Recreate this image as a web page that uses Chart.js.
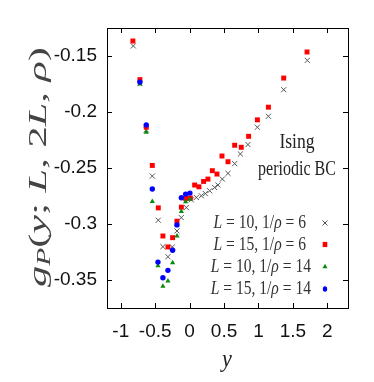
<!DOCTYPE html>
<html>
<head>
<meta charset="utf-8">
<script src="https://cdn.jsdelivr.net/npm/chart.js@4"></script>
<style>
  body { margin: 0; background: #fff; }
</style>
</head>
<body>
<canvas id="chart" width="374" height="382"></canvas>
<script>
// axis ticks
const xTicks = [-1, -0.5, 0, 0.5, 1, 1.5, 2];
const xTickLabels = ['-1', '-0.5', '0', '0.5', '1', '1.5', '2'];
const yTicks = [-0.35, -0.3, -0.25, -0.2, -0.15];
const yTickLabels = ['-0.35', '-0.3', '-0.25', '-0.2', '-0.15'];

const seriesLabels = ['L = 10, 1/ρ = 6', 'L = 15, 1/ρ = 6', 'L = 10, 1/ρ = 14', 'L = 15, 1/ρ = 14'];

// L = 10, 1/rho = 6 (crosses)
const xA = [-0.818, -0.722, -0.63, -0.542, -0.455, -0.388, -0.315, -0.251, -0.184, -0.121, -0.048, 0.025, 0.097,
  0.17, 0.228, 0.291, 0.363, 0.411, 0.475, 0.557, 0.654, 0.737, 0.847, 0.984, 1.144, 1.366, 1.709];
const yA = [-0.141, -0.1747, -0.216, -0.2572, -0.2966, -0.3202, -0.3292, -0.3205, -0.3062, -0.2943, -0.2853, -0.2784, -0.2763,
  -0.2748, -0.2728, -0.2703, -0.2674, -0.2652, -0.2599, -0.2548, -0.2461, -0.2375, -0.2291, -0.2136, -0.2038, -0.1801, -0.1539];

// L = 15, 1/rho = 6 (red squares)
const xB = [-0.824, -0.722, -0.63, -0.542, -0.455, -0.388, -0.315, -0.247, -0.184, -0.12, -0.058, 0.01, 0.073, 0.135,
  0.203, 0.266, 0.33, 0.397, 0.47, 0.557, 0.654, 0.75, 0.857, 0.984, 1.144, 1.366, 1.705];
const yB = [-0.1366, -0.1711, -0.2136, -0.2477, -0.2856, -0.3107, -0.3205, -0.3122, -0.2975, -0.285, -0.2772, -0.2768, -0.2652, -0.2668,
  -0.262, -0.2599, -0.2524, -0.2554, -0.2393, -0.2444, -0.2297, -0.2315, -0.2217, -0.207, -0.1957, -0.1697, -0.1464];

// L = 10, 1/rho = 14 (green triangles)
const xC = [-0.722, -0.63, -0.542, -0.46, -0.388, -0.315, -0.247, -0.184, -0.12, -0.058, 0.004];
const yC = [-0.175, -0.2181, -0.2799, -0.3373, -0.3555, -0.351, -0.3346, -0.3107, -0.2889, -0.2802, -0.2778];

// L = 15, 1/rho = 14 (blue circles)
const xD = [-0.722, -0.63, -0.542, -0.46, -0.388, -0.315, -0.247, -0.184, -0.12, -0.058, 0.004];
const yD = [-0.1733, -0.2115, -0.2688, -0.334, -0.348, -0.3414, -0.3235, -0.3008, -0.2766, -0.2733, -0.2724];

function pts(xs, ys) {
    return xs.map((x, i) => ({ x: x, y: ys[i] }));
}

const serif = '"Liberation Serif", "DejaVu Serif", serif';

// split a label into runs, letters in italic (math style)
function mathRuns(text, size) {
    const runs = [];
    for (const ch of text) {
        const it = /[A-Za-zρ]/.test(ch);
        const font = (it ? 'italic ' : '') + size + 'px ' + serif;
        const last = runs[runs.length - 1];
        if (last && last.font === font) last.t += ch;
        else runs.push({ t: ch, font: font, dy: 0 });
    }
    return runs;
}

function drawRuns(ctx, runs, x, y, align, sx) {
    let total = 0;
    runs.forEach(r => { ctx.font = r.font; r.w = ctx.measureText(r.t).width; total += r.w; });
    ctx.save();
    ctx.translate(x, y);
    ctx.scale(sx, 1);
    let cx = align === 'right' ? -total : align === 'center' ? -total / 2 : 0;
    ctx.textBaseline = 'alphabetic';
    ctx.textAlign = 'left';
    runs.forEach(r => {
        ctx.font = r.font;
        ctx.fillText(r.t, cx, r.dy || 0);
        cx += r.w;
    });
    ctx.restore();
}

const markerColors = ['#555555', '#ff0000', '#0a8a0a', '#0000ff'];

function drawMarker(ctx, kind, x, y) {
    ctx.save();
    ctx.fillStyle = markerColors[kind];
    ctx.strokeStyle = markerColors[kind];
    ctx.lineWidth = 1;
    ctx.beginPath();
    if (kind === 0) {
        ctx.moveTo(x - 2.5, y - 2.5); ctx.lineTo(x + 2.5, y + 2.5);
        ctx.moveTo(x + 2.5, y - 2.5); ctx.lineTo(x - 2.5, y + 2.5);
        ctx.stroke();
    } else if (kind === 1) {
        ctx.fillRect(x - 2.3, y - 2.6, 4.6, 5.2);
    } else if (kind === 2) {
        ctx.moveTo(x, y - 2.8); ctx.lineTo(x + 2.5, y + 1.8); ctx.lineTo(x - 2.5, y + 1.8);
        ctx.closePath(); ctx.fill();
    } else {
        ctx.ellipse(x, y, 2.2, 2.8, 0, 0, Math.PI * 2);
        ctx.fill();
    }
    ctx.restore();
}

const decor = {
    id: 'decor',
    afterDraw(chart) {
        const ctx = chart.ctx;
        const a = chart.chartArea;
        const xs = chart.scales.x, ys = chart.scales.y;
        ctx.save();
        ctx.strokeStyle = '#000';
        ctx.lineWidth = 1;
        ctx.strokeRect(Math.round(a.left) + 0.5, Math.round(a.top) + 0.5,
            Math.round(a.right - a.left), Math.round(a.bottom - a.top));
        // inward ticks on all sides
        ctx.beginPath();
        xTicks.forEach(v => {
            const p = Math.round(xs.getPixelForValue(v)) + 0.5;
            ctx.moveTo(p, a.bottom); ctx.lineTo(p, a.bottom - 5);
            ctx.moveTo(p, a.top); ctx.lineTo(p, a.top + 5);
        });
        yTicks.forEach(v => {
            const p = Math.round(ys.getPixelForValue(v)) + 0.5;
            ctx.moveTo(a.left, p); ctx.lineTo(a.left + 5, p);
            ctx.moveTo(a.right, p); ctx.lineTo(a.right - 5, p);
        });
        ctx.stroke();

        ctx.fillStyle = '#222';
        // annotation
        drawRuns(ctx, [{ t: 'Ising', font: '22px ' + serif }], 297, 148, 'center', 0.8);
        drawRuns(ctx, [{ t: 'periodic BC', font: '20px ' + serif }], 297, 175, 'center', 0.8);

        // legend
        const rows = [223, 244.5, 266.5, 289];
        seriesLabels.forEach((lab, i) => {
            ctx.fillStyle = '#333';
            drawRuns(ctx, mathRuns(lab, 19), i < 2 ? 306 : 311, rows[i] + 5, 'right', 0.82);
            drawMarker(ctx, i, 325, rows[i]);
        });

        // axis titles
        ctx.fillStyle = '#222';
        drawRuns(ctx, [{ t: 'y', font: 'italic 26px ' + serif }], 227, 367, 'center', 0.85);

        ctx.save();
        ctx.translate(46, 167);
        ctx.rotate(-Math.PI / 2);
        ctx.fillStyle = '#444';
        const big = 26, small = 18;
        const titleRuns = [
            { t: 'g', font: 'italic ' + big + 'px ' + serif, dy: 0 },
            { t: 'P', font: 'italic ' + small + 'px ' + serif, dy: 4 },
            { t: '(', font: big + 'px ' + serif, dy: 0 },
            { t: 'y', font: 'italic ' + big + 'px ' + serif, dy: 0 },
            { t: '; ', font: big + 'px ' + serif, dy: 0 },
            { t: 'L', font: 'italic ' + big + 'px ' + serif, dy: 0 },
            { t: ', 2', font: big + 'px ' + serif, dy: 0 },
            { t: 'L', font: 'italic ' + big + 'px ' + serif, dy: 0 },
            { t: ', ', font: big + 'px ' + serif, dy: 0 },
            { t: 'ρ', font: 'italic ' + big + 'px ' + serif, dy: 0 },
            { t: ')', font: big + 'px ' + serif, dy: 0 }
        ];
        let w = 0;
        titleRuns.forEach(r => { ctx.font = r.font; w += ctx.measureText(r.t).width; });
        drawRuns(ctx, titleRuns, 0, 0, 'center', 240 / w);
        ctx.restore();
        ctx.restore();
    }
};

const ctx = document.getElementById('chart').getContext('2d');

const chart = new Chart(ctx, {
    type: 'scatter',
    data: {
        datasets: [
            { label: seriesLabels[0], data: pts(xA, yA), pointStyle: 'crossRot', pointRadius: 3.6,
              borderColor: '#555555', borderWidth: 1, backgroundColor: '#555555', order: 3 },
            { label: seriesLabels[1], data: pts(xB, yB), pointStyle: 'rect', pointRadius: 3.5,
              backgroundColor: '#ff0000', borderWidth: 0, order: 2 },
            { label: seriesLabels[2], data: pts(xC, yC), pointStyle: 'triangle', pointRadius: 3,
              backgroundColor: '#0a8a0a', borderWidth: 0, order: 1 },
            { label: seriesLabels[3], data: pts(xD, yD), pointStyle: 'circle', pointRadius: 2.7,
              backgroundColor: '#0000ff', borderWidth: 0, order: 0 }
        ]
    },
    options: {
        responsive: false,
        animation: false,
        layout: { padding: { left: 0, top: 28, right: 26, bottom: 0 } },
        plugins: {
            legend: { display: false },
            tooltip: { enabled: false }
        },
        scales: {
            x: {
                type: 'linear',
                min: -1.2,
                max: 2.3,
                afterBuildTicks: s => { s.ticks = xTicks.map(v => ({ value: v })); },
                afterFit: s => { s.height = 74; },
                grid: { display: false, drawTicks: false },
                border: { display: false },
                ticks: {
                    padding: 12,
                    color: '#111',
                    font: { family: '"Liberation Sans Narrow", "Liberation Sans", sans-serif', size: 19 },
                    callback: v => xTickLabels[xTicks.indexOf(v)]
                }
            },
            y: {
                type: 'linear',
                min: -0.375,
                max: -0.125,
                afterBuildTicks: s => { s.ticks = yTicks.map(v => ({ value: v })); },
                afterFit: s => { s.width = 107; },
                grid: { display: false, drawTicks: false },
                border: { display: false },
                ticks: {
                    padding: 10,
                    color: '#111',
                    font: { family: '"Liberation Sans Narrow", "Liberation Sans", sans-serif', size: 19 },
                    callback: v => yTickLabels[yTicks.indexOf(v)]
                }
            }
        }
    },
    plugins: [decor]
});
</script>
</body>
</html>
